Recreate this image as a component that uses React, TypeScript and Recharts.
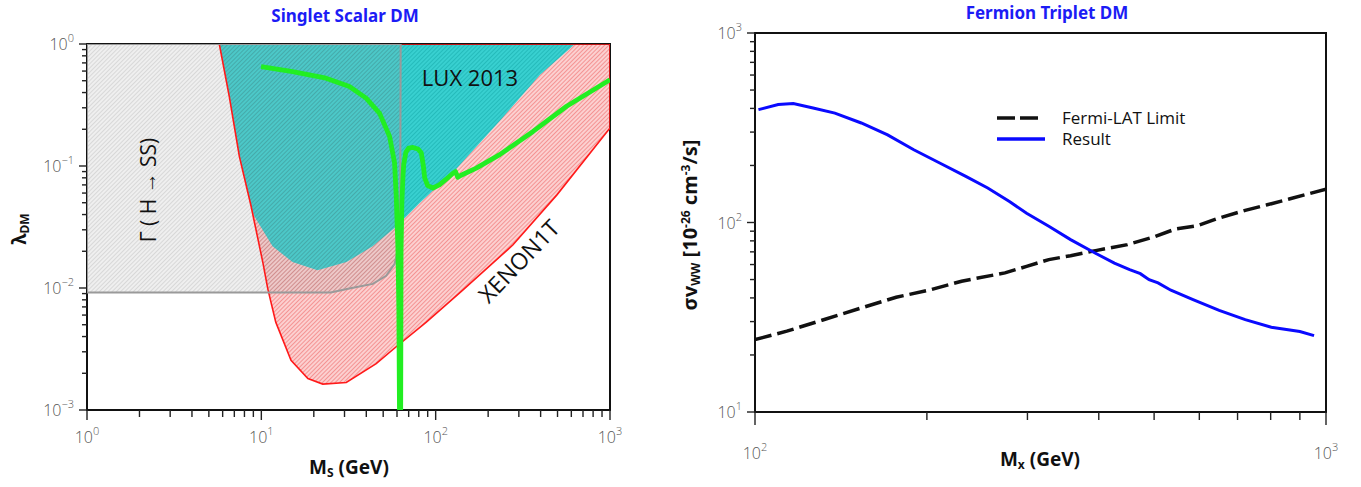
import React from "react"
import { Area, ComposedChart, Line, ReferenceArea, XAxis, YAxis } from "recharts"

// ---- Singlet Scalar DM ----
const lambdaMax = 1

// Γ(H → SS) excluded band: lower edge
const higgsMass = [1, 25, 32, 43.6, 52, 58.1, 61.5, 62.6, 63]
const higgsLambda = [0.0092, 0.0092, 0.0099, 0.0108, 0.0126, 0.0157, 0.0221, 0.04, 1]

// XENON1T reach: lower edge
const xenonMass = [5.74, 6.55, 7.48, 8.73, 10.2, 10.9, 12.1, 14.8, 18.5, 22.5, 30.7, 45.6, 59.4, 88.4, 143, 277, 496, 1000]
const xenonLambda = [1, 0.37, 0.12, 0.047, 0.0162, 0.0098, 0.00525, 0.00255, 0.00181, 0.00163, 0.00168, 0.0024, 0.0033, 0.00525, 0.0096, 0.0225, 0.058, 0.205]

// LUX 2013 exclusion: lower edge
const luxMass = [5.74, 6.55, 7.48, 8.73, 9.1, 11.6, 15.1, 21, 30.8, 43.5, 59.7, 81, 131.5, 233, 396, 630]
const luxLambda = [1, 0.37, 0.12, 0.047, 0.039, 0.022, 0.0163, 0.014, 0.0163, 0.022, 0.032, 0.0497, 0.095, 0.234, 0.557, 1]

// relic density curve (doubles back at the Higgs resonance)
const relicMass = [9.96, 15.1, 23.5, 32, 39.9, 47.7, 54.4, 58.1, 59.4, 60.7, 61.5, 62, 63, 63.3, 64, 65, 65.6, 67.5, 70, 74.1, 79, 82.7, 85, 86.5, 90, 96.5, 105, 115, 126, 130, 134, 140, 171, 233, 362, 564, 1000]
const relicLambda = [0.653, 0.594, 0.525, 0.449, 0.36, 0.27, 0.175, 0.106, 0.0567, 0.0222, 0.0067, 0.001, 0.001, 0.02, 0.05, 0.085, 0.103, 0.13, 0.14, 0.142, 0.138, 0.128, 0.1, 0.0798, 0.069, 0.066, 0.07, 0.078, 0.0877, 0.09, 0.0808, 0.084, 0.096, 0.124, 0.192, 0.309, 0.51]

// ---- Fermion Triplet DM ----
const resultMass = [101.4, 109.8, 116.7, 126.4, 138, 153.5, 170.7, 189.7, 210.6, 234, 255.6, 279, 299, 327, 357, 394, 426, 453, 473, 490, 508, 535, 585, 650, 722, 802, 876, 900, 953]
const resultSigma = [394, 419, 425, 402, 378, 335, 290, 242, 206, 175, 152, 129, 112, 95.5, 81.2, 69, 61, 56.4, 53.7, 49.9, 48, 43.9, 39.2, 34.4, 30.7, 28, 26.9, 26.6, 25.3]

const fermiMass = [100, 113.7, 131, 153.5, 176.7, 203, 230, 274, 299, 327, 357, 397, 449, 499, 545, 595, 650, 722, 789, 862, 1000]
const fermiSigma = [24.1, 26.7, 30.5, 35.4, 40.3, 44.2, 49, 54.2, 58.7, 63.7, 66.8, 71.3, 76.4, 83.8, 92.4, 96.2, 105.6, 115.9, 124, 133, 150]

// log ticks
const decadeSteps = [1, 2, 3, 4, 5, 6, 7, 8, 9]
const logTicks = (decades: number[], last: number) =>
  decades.flatMap((d) => decadeSteps.map((k) => k * d)).concat(last)

const leftXTicks = logTicks([1, 10, 100], 1000)
const leftYTicks = logTicks([0.001, 0.01, 0.1], 1)
const rightXTicks = logTicks([100], 1000)
const rightYTicks = logTicks([10, 100], 1000)

const toBand = (xs: number[], lows: number[]) => xs.map((m, i) => ({ m, band: [lows[i], lambdaMax] }))
const toPoints = (xs: number[], ys: number[]) => xs.map((m, i) => ({ m, v: ys[i] }))

const higgsBand = toBand(higgsMass, higgsLambda)
const xenonBand = toBand(xenonMass, xenonLambda)
const luxBand = toBand(luxMass, luxLambda)

const higgsOutline = [
  { m: higgsMass[0], v: lambdaMax },
  ...toPoints(higgsMass, higgsLambda),
  { m: higgsMass[0], v: lambdaMax },
]
const xenonOutline = [
  ...toPoints(xenonMass, xenonLambda),
  { m: xenonMass[xenonMass.length - 1], v: lambdaMax },
  { m: xenonMass[0], v: lambdaMax },
]
const relicLine = toPoints(relicMass, relicLambda)
const resultLine = toPoints(resultMass, resultSigma)
const fermiLine = toPoints(fermiMass, fermiSigma)

const tickText: React.CSSProperties = { fontFamily: "'Open Sans', sans-serif", fontWeight: 300, fontSize: 16, fill: "#555" }
const tickInk = "#222"

const exponentOf = (v: number) => {
  const e = Math.round(Math.log10(v))
  return { e, major: Math.abs(Math.log10(v) - e) < 1e-6 }
}

// custom ticks: (x, y) sit on the axis line (tickSize = tickMargin = 0)
function XTick(props: any) {
  const x = Number(props.x)
  const y = Number(props.y)
  const { e, major } = exponentOf(props.payload.value)
  const len = major ? props.major : props.minor
  return (
    <g>
      <rect x={x - 0.7} y={y} width={1.4} height={len} fill={tickInk} stroke="none" />
      {major && (
        <text x={x} y={y + props.labelDy} textAnchor="middle" stroke="none" style={tickText}>
          10<tspan dy={-8} fontSize={11}>{e}</tspan>
        </text>
      )}
    </g>
  )
}

function YTick(props: any) {
  const x = Number(props.x)
  const y = Number(props.y)
  const { e, major } = exponentOf(props.payload.value)
  const exp = e < 0 ? `\u2212${-e}` : `${e}`
  const len = major ? 8 : 5
  return (
    <g>
      <rect x={x - len} y={y - 0.7} width={len} height={1.4} fill={tickInk} stroke="none" />
      {major && (
        <text x={x - 13} y={y + 6} textAnchor="end" stroke="none" style={tickText}>
          10<tspan dy={-8} fontSize={11}>{exp}</tspan>
        </text>
      )}
    </g>
  )
}

function Txt({ x, y, rotate = 0, style, children }: any) {
  return (
    <div
      style={{
        position: "absolute",
        left: x,
        top: y,
        transform: `translate(-50%, -50%) rotate(${rotate}deg)`,
        whiteSpace: "nowrap",
        lineHeight: 1,
        ...style,
      }}
    >
      {children}
    </div>
  )
}

const titleStyle = { fontFamily: "'Noto Sans', sans-serif", fontWeight: 700, fontSize: 17, color: "#1c1cf5" }
const axisStyle = { fontFamily: "'Noto Sans', sans-serif", fontWeight: 700, fontSize: 19, color: "#111" }
const inPlotStyle = { fontFamily: "'Open Sans', sans-serif", fontSize: 22, color: "#111" }
const subStyle = { fontSize: 12, verticalAlign: "-0.25em" }
const supStyle = { fontSize: 12, verticalAlign: "0.55em" }

const axisCommon = {
  type: "number" as const,
  scale: "log" as const,
  allowDataOverflow: true,
  interval: 0 as const,
  axisLine: false,
  tickLine: false,
  tickSize: 0,
  tickMargin: 0,
}

const bandCommon = {
  dataKey: "band",
  type: "linear" as const,
  stroke: "none",
  fillOpacity: 1,
  isAnimationActive: false,
  dot: false,
  activeDot: false,
}

function SingletScalar() {
  return (
    <ComposedChart width={680} height={487} margin={{ top: 44, right: 70, bottom: 47, left: 27 }}>
      <defs>
        <pattern id="hatchRed" width="3" height="3" patternUnits="userSpaceOnUse" patternTransform="rotate(45)">
          <rect width="3" height="3" fill="#fcd0d0" />
          <line x1="0" y1="0" x2="0" y2="3" stroke="#f06a6a" strokeWidth="1.2" />
        </pattern>
        <pattern id="hatchTeal" width="3" height="3" patternUnits="userSpaceOnUse" patternTransform="rotate(45)">
          <rect width="3" height="3" fill="#38d0d0" />
          <line x1="0" y1="0" x2="0" y2="3" stroke="#18adad" strokeWidth="1.2" />
        </pattern>
        <pattern id="hatchGray" width="3" height="3" patternUnits="userSpaceOnUse" patternTransform="rotate(45)">
          <rect width="3" height="3" fill="rgba(165,165,165,0.18)" />
          <line x1="0" y1="0" x2="0" y2="3" stroke="rgba(110,110,110,0.3)" strokeWidth="1.2" />
        </pattern>
      </defs>
      <XAxis {...axisCommon} dataKey="m" domain={[1, 1000]} ticks={leftXTicks} height={30} tick={(p: any) => <XTick {...p} major={10} minor={7} labelDy={33} />} />
      <YAxis {...axisCommon} domain={[0.001, 1]} ticks={leftYTicks} width={60} tick={(p: any) => <YTick {...p} />} />
      <Area {...bandCommon} data={xenonBand} fill="url(#hatchRed)" />
      <Area {...bandCommon} data={luxBand} fill="url(#hatchTeal)" />
      <Area {...bandCommon} data={higgsBand} fill="url(#hatchGray)" />
      <Line data={xenonOutline} dataKey="v" type="linear" stroke="#ff1a1a" strokeWidth={1.6} dot={false} activeDot={false} isAnimationActive={false} />
      <Line data={higgsOutline} dataKey="v" type="linear" stroke="#9a9a9a" strokeWidth={2} dot={false} activeDot={false} isAnimationActive={false} />
      <Line data={relicLine} dataKey="v" type="linear" stroke="#22ee22" strokeWidth={4.8} strokeLinejoin="round" dot={false} activeDot={false} isAnimationActive={false} />
      <ReferenceArea x1={1} x2={1000} y1={0.001} y2={1} fill="none" stroke="#111" strokeWidth={2} fillOpacity={0} />
    </ComposedChart>
  )
}

function FermionTriplet() {
  return (
    <ComposedChart width={681} height={487} margin={{ top: 33, right: 35, bottom: 45, left: 15 }}>
      <XAxis {...axisCommon} dataKey="m" domain={[100, 1000]} ticks={rightXTicks} height={30} tick={(p: any) => <XTick {...p} major={13} minor={8} labelDy={47} />} />
      <YAxis {...axisCommon} domain={[10, 1000]} ticks={rightYTicks} width={60} tick={(p: any) => <YTick {...p} />} />
      <Line data={fermiLine} dataKey="v" type="linear" stroke="#111" strokeWidth={3.5} strokeDasharray="17 6" dot={false} activeDot={false} isAnimationActive={false} />
      <Line data={resultLine} dataKey="v" type="linear" stroke="#0a0aff" strokeWidth={3} dot={false} activeDot={false} isAnimationActive={false} />
      <ReferenceArea x1={100} x2={1000} y1={10} y2={1000} fill="none" stroke="#111" strokeWidth={2} fillOpacity={0} />
    </ComposedChart>
  )
}

export default function App() {
  return (
    <div style={{ position: "absolute", left: 0, top: 0, width: 1361, height: 487, background: "#fff" }}>
      <div style={{ position: "absolute", left: 0, top: 0 }}>
        <SingletScalar />
      </div>
      <div style={{ position: "absolute", left: 680, top: 0 }}>
        <FermionTriplet />
      </div>

      <Txt x={345} y={15} style={titleStyle}>Singlet Scalar DM</Txt>
      <Txt x={1047} y={12} style={titleStyle}>Fermion Triplet DM</Txt>

      <Txt x={349} y={468} style={axisStyle}>
        M<span style={subStyle}>S</span> (GeV)
      </Txt>
      <Txt x={20} y={229} rotate={-90} style={axisStyle}>
        λ<span style={subStyle}>DM</span>
      </Txt>
      <Txt x={1040} y={460} style={axisStyle}>
        M<span style={subStyle}>x</span> (GeV)
      </Txt>
      <Txt x={691} y={225} rotate={-90} style={{ ...axisStyle, fontSize: 20 }}>
        σv<span style={subStyle}>WW</span> [10<span style={supStyle}>-26</span> cm<span style={supStyle}>-3</span>/s]
      </Txt>

      <Txt x={470} y={77} style={inPlotStyle}>LUX 2013</Txt>
      <Txt x={519} y={261} rotate={-46} style={{ ...inPlotStyle, fontSize: 23 }}>XENON1T</Txt>
      <Txt x={148} y={190} rotate={-90} style={{ ...inPlotStyle, fontSize: 21 }}>Γ ( H → SS)</Txt>

      <svg style={{ position: "absolute", left: 990, top: 100 }} width={230} height={55}>
        <line x1={7} x2={50} y1={18} y2={18} stroke="#111" strokeWidth={3.5} strokeDasharray="18 5" />
        <text x={72} y={24} style={{ fontFamily: "'Open Sans', sans-serif", fontSize: 17, fill: "#111" }}>Fermi-LAT Limit</text>
        <line x1={7} x2={55} y1={39} y2={39} stroke="#0a0aff" strokeWidth={3.5} />
        <text x={72} y={45} style={{ fontFamily: "'Open Sans', sans-serif", fontSize: 17, fill: "#111" }}>Result</text>
      </svg>
    </div>
  )
}
